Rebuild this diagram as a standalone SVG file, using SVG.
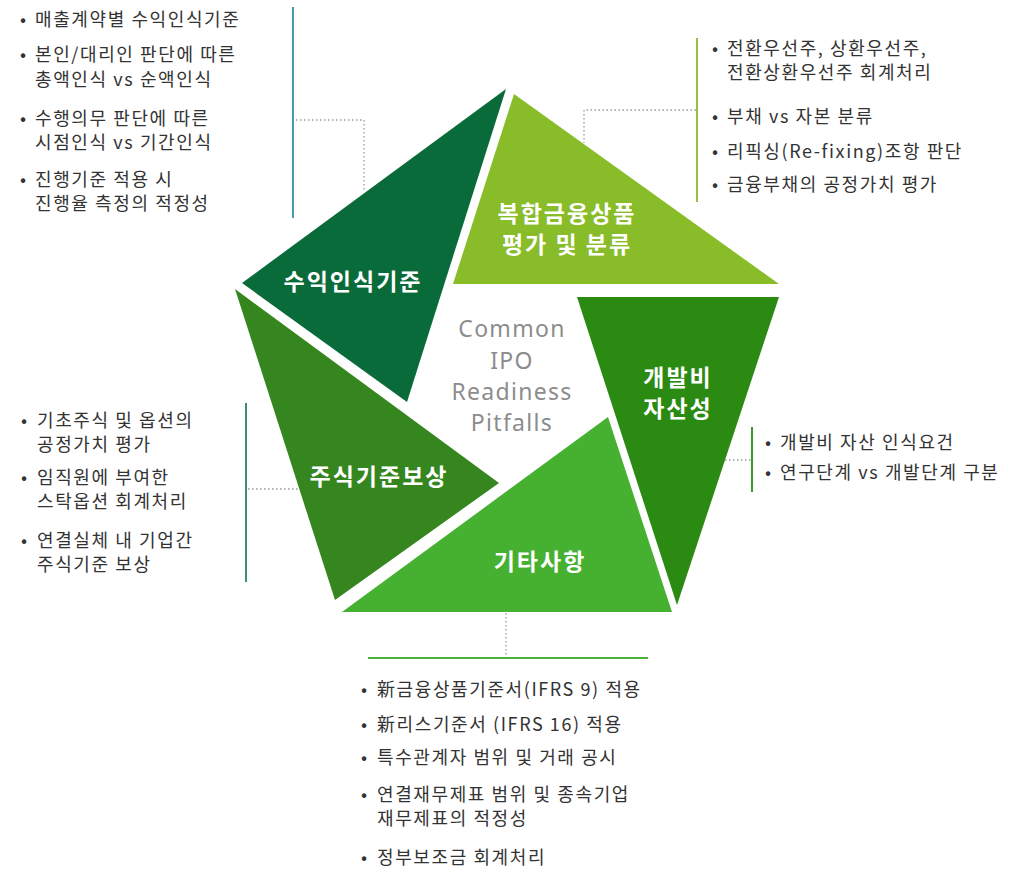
<svg xmlns="http://www.w3.org/2000/svg" width="1032" height="874" viewBox="0 0 1032 874">
<style>
.lbl{font-family:"Noto Sans CJK KR","Noto Sans",sans-serif;font-weight:700;font-size:23px;letter-spacing:2px;fill:#ffffff;text-anchor:middle}
.li{font-family:"Noto Sans CJK KR","Noto Sans",sans-serif;font-size:18px;letter-spacing:1.6px;fill:#333333}
.bu{font-family:"Noto Sans CJK KR","Noto Sans",sans-serif;font-size:18px;fill:#333333}
.ctr{font-family:"Noto Sans","Noto Sans CJK KR",sans-serif;font-size:23px;letter-spacing:1.3px;fill:#8c8c8c;text-anchor:middle}
.dot{fill:none;stroke:#9a9a9a;stroke-width:1.3;stroke-dasharray:1.5 2.5}
</style>
<rect width="1032" height="874" fill="#ffffff"/>
<g id="center-title">
<text class="ctr" x="512" y="337">Common</text>
<text class="ctr" x="512" y="369">IPO</text>
<text class="ctr" x="512" y="400">Readiness</text>
<text class="ctr" x="512" y="431">Pitfalls</text>
</g>
<g id="node-revenue">
<polygon points="506,89 242,283 407,402" fill="#0a6b3a"/>
<text class="lbl" x="353" y="290">수익인식기준</text>
</g>
<g id="node-compound">
<polygon points="514,94 453,284 779,284" fill="#88bc28"/>
<text class="lbl" x="567" y="222">복합금융상품</text>
<text class="lbl" x="567" y="253">평가 및 분류</text>
</g>
<g id="node-dev">
<polygon points="577,297 779,297 677,605" fill="#2a8a12"/>
<text class="lbl" x="678" y="386">개발비</text>
<text class="lbl" x="678" y="417">자산성</text>
</g>
<g id="node-other">
<polygon points="608,417 672,612 342,612" fill="#46b030"/>
<text class="lbl" x="540" y="570">기타사항</text>
</g>
<g id="node-share">
<polygon points="235,289 499,483 335,600" fill="#36861f"/>
<text class="lbl" x="379" y="485">주식기준보상</text>
</g>
<g id="connectors">
<polyline class="dot" points="296,120 364,120 364,192"/>
<polyline class="dot" points="696,110 584,110 584,143"/>
<polyline class="dot" points="725,460 751,460"/>
<polyline class="dot" points="506,613 506,657"/>
<polyline class="dot" points="248,489 299,489"/>
</g>
<g id="list-revenue">
<line x1="293" y1="7" x2="293" y2="218" stroke="#4a9bb0" stroke-width="2"/>
<text class="bu" x="20" y="26">•</text><text class="li" x="35" y="26">매출계약별 수익인식기준</text>
<text class="bu" x="20" y="61">•</text><text class="li" x="35" y="61">본인/대리인 판단에 따른<tspan x="35" y="86">총액인식 vs 순액인식</tspan></text>
<text class="bu" x="20" y="125">•</text><text class="li" x="35" y="125">수행의무 판단에 따른<tspan x="35" y="149">시점인식 vs 기간인식</tspan></text>
<text class="bu" x="20" y="186">•</text><text class="li" x="35" y="186">진행기준 적용 시<tspan x="35" y="210">진행율 측정의 적정성</tspan></text>
</g>
<g id="list-compound">
<line x1="697" y1="38" x2="697" y2="202" stroke="#8cc43c" stroke-width="2"/>
<text class="bu" x="712" y="55">•</text><text class="li" x="727" y="55">전환우선주, 상환우선주,<tspan x="727" y="79">전환상환우선주 회계처리</tspan></text>
<text class="bu" x="712" y="123">•</text><text class="li" x="727" y="123">부채 vs 자본 분류</text>
<text class="bu" x="712" y="158">•</text><text class="li" x="727" y="158">리픽싱(Re-fixing)조항 판단</text>
<text class="bu" x="712" y="191">•</text><text class="li" x="727" y="191">금융부채의 공정가치 평가</text>
</g>
<g id="list-dev">
<line x1="752" y1="427" x2="752" y2="492" stroke="#3c9a2a" stroke-width="2"/>
<text class="bu" x="765" y="449">•</text><text class="li" x="780" y="449">개발비 자산 인식요건</text>
<text class="bu" x="765" y="479">•</text><text class="li" x="780" y="479">연구단계 vs 개발단계 구분</text>
</g>
<g id="list-share">
<line x1="246" y1="403" x2="246" y2="582" stroke="#3a9070" stroke-width="2"/>
<text class="bu" x="21" y="427">•</text><text class="li" x="37" y="427">기초주식 및 옵션의<tspan x="37" y="451">공정가치 평가</tspan></text>
<text class="bu" x="21" y="484">•</text><text class="li" x="37" y="484">임직원에 부여한<tspan x="37" y="508">스탁옵션 회계처리</tspan></text>
<text class="bu" x="21" y="547">•</text><text class="li" x="37" y="547">연결실체 내 기업간<tspan x="37" y="571">주식기준 보상</tspan></text>
</g>
<g id="list-other">
<line x1="368" y1="658" x2="648" y2="658" stroke="#4caf3a" stroke-width="2"/>
<text class="bu" x="361" y="696">•</text><text class="li" x="377" y="696">新금융상품기준서(IFRS 9) 적용</text>
<text class="bu" x="361" y="731">•</text><text class="li" x="377" y="731">新리스기준서 (IFRS 16) 적용</text>
<text class="bu" x="361" y="764">•</text><text class="li" x="377" y="764">특수관계자 범위 및 거래 공시</text>
<text class="bu" x="361" y="801">•</text><text class="li" x="377" y="801">연결재무제표 범위 및 종속기업<tspan x="377" y="825">재무제표의 적정성</tspan></text>
<text class="bu" x="361" y="864">•</text><text class="li" x="377" y="864">정부보조금 회계처리</text>
</g>
</svg>
